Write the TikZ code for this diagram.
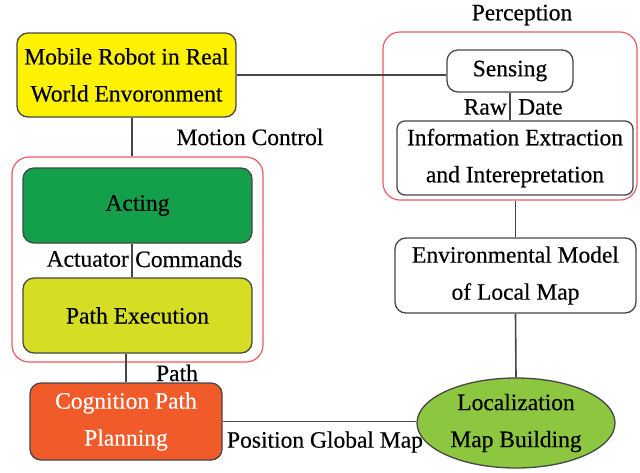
\documentclass[tikz,border=0pt]{standalone}
\usepackage{fontspec}
\setmainfont{Liberation Serif}[FakeBold=0.4]
\usetikzlibrary{shapes.geometric}
\definecolor{robotyellow}{RGB}{255,242,0}
\definecolor{actgreen}{RGB}{20,160,75}
\definecolor{execyellow}{RGB}{214,222,35}
\definecolor{cogorange}{RGB}{241,90,41}
\definecolor{locgreen}{RGB}{141,198,63}
\definecolor{framered}{RGB}{238,90,100}
\definecolor{linegray}{RGB}{70,70,70}
\begin{document}
\begin{tikzpicture}[x=1pt,y=-1pt,
  every node/.style={font=\fontsize{23.5}{37}\selectfont},
  box/.style={draw=linegray, line width=1.3pt, rounded corners=11pt, align=center, inner sep=0pt},
  frame/.style={draw=framered, line width=1.2pt, rounded corners=17pt, inner sep=0pt},
  link/.style={draw=linegray, line width=1.6pt},
  lbl/.style={inner sep=0pt}]
\useasboundingbox (0,0) rectangle (640,472);

% group frames
\node[frame, minimum width=251pt, minimum height=205pt] (motion) at (137.5,259.5) {};
\node[frame, minimum width=254pt, minimum height=168pt] (perc) at (510,116) {};

% boxes
\node[box, fill=robotyellow, minimum width=219pt, minimum height=84pt] (robot) at (126.5,75) {Mobile Robot in Real\\World Envoronment};
\node[box, minimum width=126pt, minimum height=42pt] (sensing) at (510,71) {Sensing};
\node[box, rounded corners=8pt, minimum width=236pt, minimum height=74pt] (info) at (515,158) {Information Extraction\\and Interepretation};
\node[box, minimum width=241pt, minimum height=75pt] (env) at (515.5,275.5) {Environmental Model\\of Local Map};
\node[box, fill=actgreen, minimum width=229pt, minimum height=75pt] (acting) at (137.5,205.5) {Acting};
\node[box, fill=execyellow, minimum width=229pt, minimum height=75pt] (exec) at (137.5,315.5) {Path Execution};
\node[box, fill=cogorange, text=white, minimum width=192pt, minimum height=77pt] (cog) at (126,421.5) {Cognition Path\\Planning};
\node[ellipse, draw=linegray, line width=1.3pt, fill=locgreen, align=center, inner sep=0pt, minimum width=198pt, minimum height=90pt] (loc) at (516,423) {Localization\\Map Building};

% labels
\node[lbl] (perclbl) at (522,15) {Perception};
\node[lbl] (motionlbl) at (250,137) {Motion Control};
\node[lbl, anchor=east] (raw) at (507,107) {Raw};
\node[lbl, anchor=west] (date) at (518,107) {Date};
\node[lbl, anchor=east] (actuator) at (129,259) {Actuator};
\node[lbl, anchor=west] (commands) at (135,259) {Commands};
\node[lbl] (pathlbl) at (177,373) {Path};
\node[lbl] (poslbl) at (325,442) {Position Global Map};

% connectors
\coordinate (spine) at (132,0);
\draw[link] (robot.east) -- (robot.east -| sensing.west);
\draw[link] (robot.south -| spine) -- (motion.north -| spine);
\draw[link] (acting.south -| spine) -- (exec.north -| spine);
\draw[link] (exec.south -| cog.north) -- (cog.north);
\draw[link] (cog.east) -- (cog.east -| loc.west);
\draw[link] (sensing.south) -- (sensing.south |- info.north);
\draw[link] (env.north |- perc.south) -- (env.north);
\draw[link] (env.south) -- (loc.north);
\end{tikzpicture}
\end{document}
